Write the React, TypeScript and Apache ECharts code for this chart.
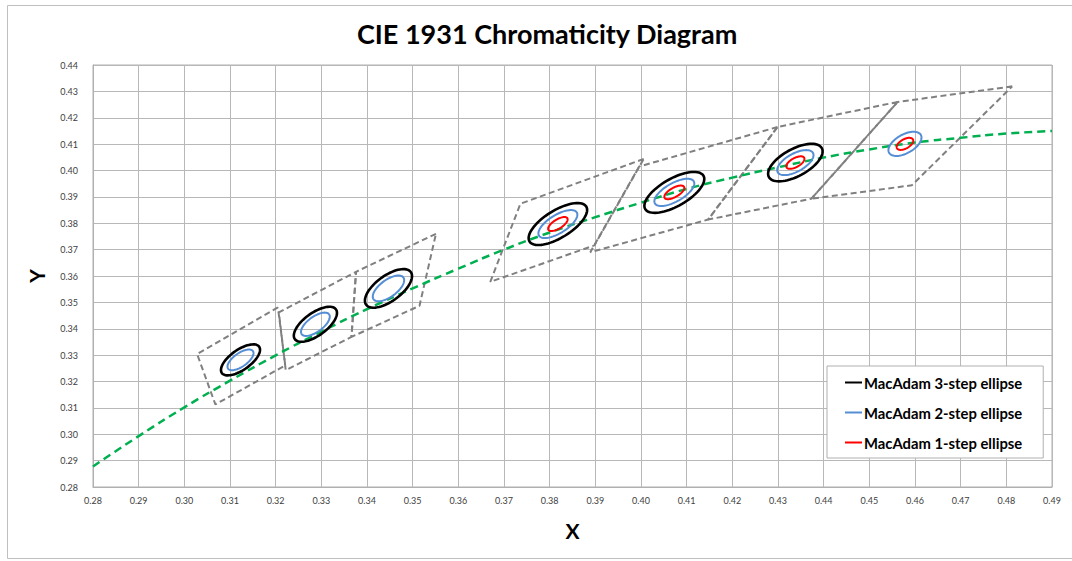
import React, { useEffect, useRef } from "react";
import * as echarts from "echarts";

const FONT = "Lato, 'Noto Sans', sans-serif";

// Planckian locus (green dashed)
const locusX = [0.28, 0.29, 0.3, 0.31, 0.32, 0.33, 0.34, 0.35, 0.36, 0.37, 0.38, 0.39, 0.4, 0.41, 0.42, 0.43, 0.44, 0.45, 0.46, 0.47, 0.48, 0.49];
const locusY = [0.2878, 0.2993, 0.3102, 0.3203, 0.3299, 0.3389, 0.3474, 0.3553, 0.3628, 0.37, 0.3765, 0.3823, 0.3878, 0.393, 0.3973, 0.4012, 0.4049, 0.408, 0.4106, 0.4124, 0.414, 0.415];

// ANSI quadrangles (corners)
const quadNames = ["6500K", "5700K", "5000K", "4000K", "3500K", "3000K", "2700K"];
const quadCornersX = [
  [0.3205, 0.3028, 0.3068, 0.3221],
  [0.3376, 0.3366, 0.3222, 0.3207],
  [0.3551, 0.3376, 0.3366, 0.3515],
  [0.4006, 0.3736, 0.367, 0.3898],
  [0.4299, 0.3996, 0.3889, 0.4147],
  [0.4562, 0.4299, 0.4147, 0.4373],
  [0.4813, 0.4562, 0.4373, 0.4593],
];
const quadCornersY = [
  [0.3481, 0.3304, 0.3113, 0.3261],
  [0.3616, 0.3369, 0.3243, 0.3462],
  [0.376, 0.3616, 0.3369, 0.3487],
  [0.4044, 0.3874, 0.3578, 0.3716],
  [0.4165, 0.4015, 0.369, 0.3814],
  [0.426, 0.4165, 0.3814, 0.3893],
  [0.4319, 0.426, 0.3893, 0.3944],
];
const quadDashOffset = [0, 2.98, 0, 0, 0, 0, 0];

// MacAdam ellipse centres and 1-step parameters
const ellipseX = [0.3123, 0.3287, 0.3447, 0.3818, 0.4073, 0.4338, 0.4578];
const ellipseY = [0.3282, 0.3417, 0.3553, 0.3797, 0.3917, 0.403, 0.4101];
const ellipseA = [0.00223, 0.0025, 0.00274, 0.00313, 0.00309, 0.00278, 0.00258];
const ellipseB = [0.00095, 0.00106, 0.00118, 0.00134, 0.00138, 0.00136, 0.00137];
const ellipseTheta = [58.23, 59.0, 59.62, 54.0, 52.17, 53.22, 57.17];

const stepNames = ["MacAdam 3-step ellipse", "MacAdam 2-step ellipse", "MacAdam 1-step ellipse"];
const stepCounts = [3, 2, 1];
const stepColors = ["#000000", "#558ED5", "#FF0000"];
const stepWidths = [2.6, 2, 2];
// which ellipses (index into centres) are drawn for each step
const stepMembers = [
  [0, 1, 2, 3, 4, 5],
  [0, 1, 2, 3, 4, 5, 6],
  [3, 4, 5, 6],
];

export default function App() {
  const ref = useRef<HTMLDivElement>(null);
  useEffect(() => {
    if (!ref.current) return;
    const chart = echarts.init(ref.current, undefined, { renderer: "svg" });

    const locusData = locusX.map((x, i) => [x, locusY[i]]);

    const quadSeries = quadNames.map((n, q) => {
      const pts = quadCornersX[q].map((x, i) => [x, quadCornersY[q][i]]);
      pts.push(pts[0]);
      return {
        name: n,
        type: "line",
        data: pts,
        showSymbol: false,
        symbol: "none",
        silent: true,
        lineStyle: { color: "#808080", width: 2, type: [6, 3.5], dashOffset: quadDashOffset[q] },
        z: 3,
      };
    });

    const ellipseSeries = stepNames.map((name, s) => {
      const k = stepCounts[s];
      const color = stepColors[s];
      const lw = stepWidths[s];
      return {
        name,
        type: "custom",
        itemStyle: { color },
        encode: { x: 0, y: 1 },
        data: stepMembers[s].map((i) => [ellipseX[i], ellipseY[i], ellipseA[i], ellipseB[i], ellipseTheta[i]]),
        renderItem: (params: any, api: any) => {
          const cx = api.value(0);
          const cy = api.value(1);
          const a = api.value(2) * k;
          const b = api.value(3) * k;
          const th = (api.value(4) * Math.PI) / 180;
          const pts: number[][] = [];
          const N = 72;
          for (let j = 0; j < N; j++) {
            const t = (j / N) * Math.PI * 2;
            const dx = a * Math.cos(t) * Math.cos(th) - b * Math.sin(t) * Math.sin(th);
            const dy = a * Math.cos(t) * Math.sin(th) + b * Math.sin(t) * Math.cos(th);
            pts.push(api.coord([cx + dx, cy + dy]));
          }
          return {
            type: "polygon",
            shape: { points: pts },
            style: { fill: "none", stroke: color, lineWidth: lw },
          };
        },
        z: 5,
      };
    });

    const option: any = {
      animation: false,
      backgroundColor: "#ffffff",
      title: {
        text: "CIE 1931 Chromaticity Diagram",
        left: 352,
        top: 15,
        textStyle: { fontFamily: FONT, fontSize: 27, fontWeight: "bold", color: "#000000" },
      },
      graphic: [
        {
          type: "rect",
          shape: { x: 7.5, y: 5.5, width: 1080, height: 553 },
          style: { fill: "none", stroke: "#bfbfbf", lineWidth: 1 },
          silent: true,
          z: -10,
        },
      ],
      grid: {
        left: 93,
        right: 20,
        top: 65,
        bottom: 74,
        show: true,
        borderColor: "#b0b0b0",
        borderWidth: 1,
      },
      legend: {
        data: stepNames,
        orient: "vertical",
        left: 827,
        top: 366,
        padding: [9, 21, 8, 18],
        itemGap: 15,
        itemWidth: 17,
        itemHeight: 2,
        icon: "rect",
        backgroundColor: "#ffffff",
        borderColor: "#b0b0b0",
        borderWidth: 1,
        textStyle: { fontFamily: FONT, fontSize: 14.8, fontWeight: "bold", color: "#000000", padding: [0, 0, 0, -3], lineHeight: 14 },
      },
      xAxis: {
        type: "value",
        min: 0.28,
        max: 0.49,
        interval: 0.01,
        name: "X",
        nameLocation: "middle",
        nameGap: 33,
        nameTextStyle: { fontFamily: FONT, fontSize: 21, fontWeight: "bold", color: "#000000" },
        axisLine: { show: true, lineStyle: { color: "#b0b0b0" } },
        axisTick: { show: false },
        axisLabel: {
          fontFamily: FONT,
          fontSize: 9,
          color: "#404040",
          margin: 9,
          formatter: (v: number) => v.toFixed(2),
        },
        splitLine: { show: true, lineStyle: { color: "#b8b8b8", width: 1 } },
      },
      yAxis: {
        type: "value",
        min: 0.28,
        max: 0.44,
        interval: 0.01,
        name: "Y",
        nameLocation: "middle",
        nameRotate: 90,
        nameGap: 46,
        nameTextStyle: { fontFamily: FONT, fontSize: 21, fontWeight: "bold", color: "#000000" },
        axisLine: { show: true, lineStyle: { color: "#b0b0b0" } },
        axisTick: { show: false },
        axisLabel: {
          fontFamily: FONT,
          fontSize: 9,
          color: "#404040",
          margin: 15,
          formatter: (v: number) => v.toFixed(2),
        },
        splitLine: { show: true, lineStyle: { color: "#b8b8b8", width: 1 } },
      },
      series: [
        {
          name: "Planckian locus",
          type: "line",
          data: locusData,
          smooth: true,
          showSymbol: false,
          symbol: "none",
          silent: true,
          lineStyle: { color: "#00B050", width: 2.5, type: [8, 5] },
          z: 4,
        },
        ...quadSeries,
        ...ellipseSeries,
      ],
    };
    chart.setOption(option);
    return () => chart.dispose();
  }, []);
  return <div ref={ref} style={{ width: 1072, height: 561, position: "absolute", left: 0, top: 0 }} />;
}
